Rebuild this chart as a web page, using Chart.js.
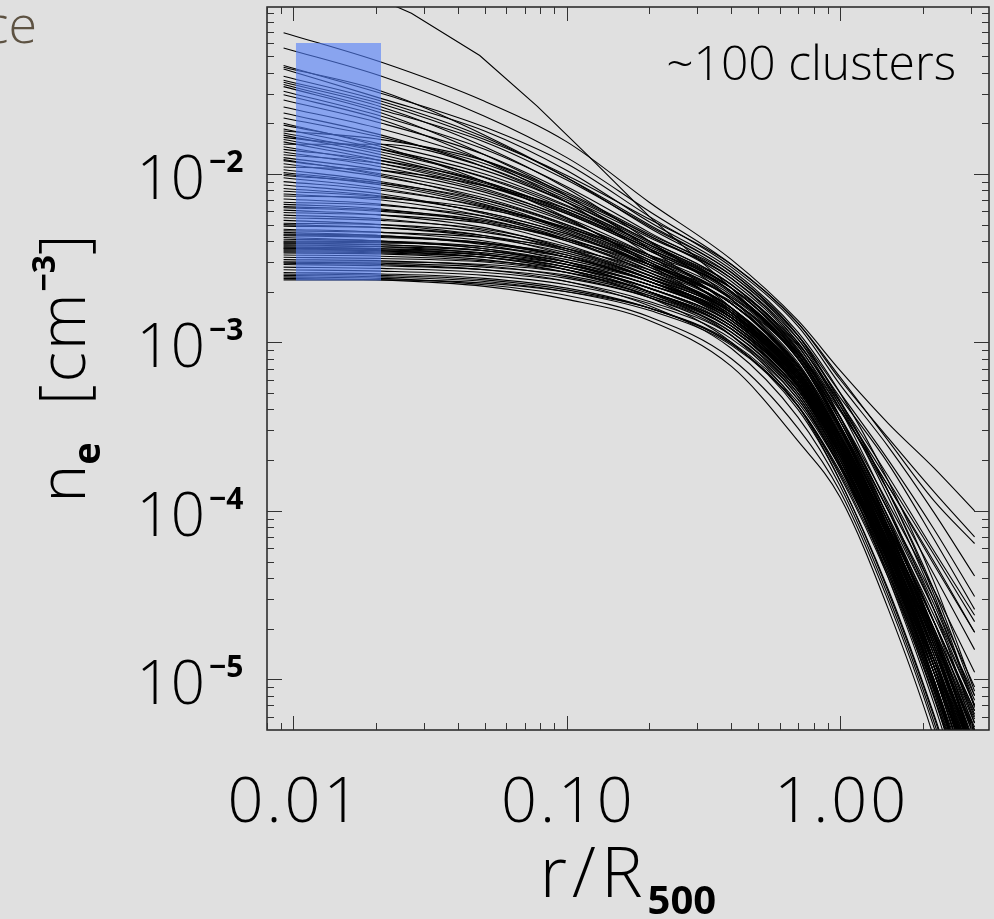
<!DOCTYPE html>
<html>
<head>
<meta charset="utf-8">
<script src="https://cdn.jsdelivr.net/npm/chart.js@4.4.1/dist/chart.umd.min.js"></script>
<style>
  html, body { margin: 0; padding: 0; background: #e0e0e0; }
  canvas { display: block; }
</style>
</head>
<body>
<canvas id="myChart" width="994" height="919"></canvas>
<script>
// radii in units of R500
const RADII = [0.0092, 0.021, 0.05, 0.1, 0.2, 0.4, 0.7, 1.0, 1.5, 2.2, 3.1];

// electron density profiles, in units of 1e-3 cm^-3, one row per cluster
const coolCore = [
  [69, 46, 27, 15.5, 6.8, 3.1, 1.35, 0.68, 0.33, 0.18, 0.100],
  [56, 38, 22, 12.5, 6.0, 2.9, 1.30, 0.60, 0.27, 0.13, 0.070],
  [44, 30, 19, 11.5, 5.6, 2.8, 1.25, 0.56, 0.24, 0.098, 0.041],
  [43, 31, 17, 9.5, 4.8, 2.5, 1.05, 0.42, 0.12, 0.030, 0.0068],
  [42, 28, 18, 10.5, 5.2, 2.7, 1.15, 0.50, 0.15, 0.038, 0.0085],
  [36, 26, 16, 9.8, 5.4, 2.9, 1.30, 0.62, 0.26, 0.115, 0.064],
  [35, 25, 14.5, 8.2, 4.0, 1.8, 0.68, 0.24, 0.052, 0.010, 0.0017],
  [34, 24, 15.5, 9.2, 4.9, 2.6, 1.10, 0.44, 0.13, 0.034, 0.0080],
  [33, 23, 13, 7.4, 3.6, 1.6, 0.60, 0.21, 0.046, 0.0085, 0.0014],
  [31, 22, 14, 8.4, 4.5, 2.4, 1.00, 0.40, 0.105, 0.026, 0.0055],
  [29.5, 21, 12, 6.8, 3.3, 1.5, 0.58, 0.20, 0.044, 0.0080, 0.0013],
  [27.5, 20, 13, 7.8, 4.4, 2.5, 1.10, 0.50, 0.20, 0.078, 0.031],
  [23, 17, 11, 6.8, 3.9, 2.1, 0.85, 0.31, 0.072, 0.014, 0.0026],
  [21.5, 16.5, 11.5, 7.2, 4.2, 2.4, 1.00, 0.42, 0.15, 0.055, 0.022],
  [20, 14.5, 9.0, 5.5, 2.9, 1.4, 0.55, 0.19, 0.040, 0.0072, 0.0012],
  [38, 27, 16.5, 9.5, 5.0, 2.6, 1.10, 0.45, 0.13, 0.032, 0.0070],
  [25, 18.5, 12, 7.4, 4.3, 2.3, 0.96, 0.36, 0.090, 0.019, 0.0036]
];

const intermediate = [
  [19.5, 15, 10.5, 6.8, 4.0, 2.2, 0.92, 0.36, 0.10, 0.028, 0.0075],
  [18.5, 14, 9.5, 6.2, 3.7, 2.1, 0.88, 0.34, 0.090, 0.022, 0.0050],
  [18, 16, 12, 7.6, 4.3, 2.4, 1.05, 0.47, 0.19, 0.068, 0.026],
  [17, 13, 9.0, 6.0, 3.6, 2.0, 0.82, 0.31, 0.080, 0.018, 0.0038],
  [16.5, 14, 10, 6.5, 3.8, 2.0, 0.80, 0.30, 0.075, 0.016, 0.0032],
  [16, 12.5, 8.8, 5.9, 3.6, 2.1, 0.90, 0.36, 0.11, 0.034, 0.011],
  [15, 15, 11, 7.0, 4.0, 2.2, 0.90, 0.34, 0.085, 0.019, 0.0040],
  [14.5, 11.5, 8.2, 5.4, 3.0, 1.55, 0.60, 0.22, 0.050, 0.0095, 0.0017],
  [14, 12, 9.0, 6.0, 3.6, 2.0, 0.84, 0.32, 0.085, 0.020, 0.0045],
  [13.5, 11, 8.0, 5.5, 3.3, 1.8, 0.74, 0.28, 0.068, 0.015, 0.0030],
  [13, 11.5, 8.5, 5.8, 3.5, 2.0, 0.85, 0.34, 0.100, 0.030, 0.0090],
  [12.5, 10.5, 7.8, 5.3, 3.2, 1.8, 0.72, 0.27, 0.064, 0.013, 0.0024],
  [12, 10, 7.5, 5.2, 3.3, 1.9, 0.80, 0.31, 0.085, 0.022, 0.0060],
  [11.5, 9.6, 7.2, 5.0, 3.1, 1.7, 0.70, 0.26, 0.062, 0.013, 0.0025],
  [11, 10.5, 8.5, 6.2, 3.8, 2.2, 0.95, 0.40, 0.14, 0.050, 0.019],
  [10.6, 9.0, 6.8, 4.7, 2.9, 1.6, 0.66, 0.25, 0.060, 0.012, 0.0022],
  [10.2, 8.8, 6.6, 4.6, 2.9, 1.7, 0.70, 0.27, 0.070, 0.016, 0.0036],
  [10, 8.6, 6.5, 4.8, 3.1, 1.8, 0.76, 0.29, 0.076, 0.019, 0.0048],
  [9.5, 8.2, 6.3, 4.5, 2.8, 1.6, 0.64, 0.24, 0.056, 0.011, 0.0020],
  [9.0, 8.0, 6.4, 4.7, 3.0, 1.7, 0.72, 0.28, 0.080, 0.022, 0.0065],
  [8.6, 7.6, 5.8, 4.2, 2.7, 1.5, 0.62, 0.23, 0.052, 0.010, 0.0018],
  [8.2, 7.4, 5.9, 4.4, 2.9, 1.7, 0.72, 0.28, 0.074, 0.018, 0.0042],
  [17.5, 13.5, 9.6, 6.4, 3.8, 2.1, 0.86, 0.32, 0.080, 0.017, 0.0034],
  [15.5, 12, 8.6, 5.8, 3.5, 1.95, 0.80, 0.30, 0.078, 0.018, 0.0040],
  [12.2, 9.8, 7.0, 4.9, 3.0, 1.7, 0.68, 0.25, 0.058, 0.012, 0.0022],
  [9.8, 8.8, 7.0, 5.0, 3.2, 1.85, 0.80, 0.32, 0.092, 0.026, 0.0080]
];

const nonCoolCore = [
  [7.9, 7.3, 5.9, 4.4, 2.9, 1.7, 0.72, 0.28, 0.072, 0.016, 0.0034],
  [7.6, 7.0, 5.6, 4.1, 2.6, 1.5, 0.62, 0.24, 0.058, 0.012, 0.0022],
  [7.4, 7.2, 6.2, 4.8, 3.3, 2.1, 0.98, 0.44, 0.16, 0.058, 0.024],
  [7.1, 6.6, 5.4, 4.0, 2.6, 1.5, 0.64, 0.25, 0.064, 0.014, 0.0028],
  [6.8, 6.5, 5.6, 4.3, 2.9, 1.7, 0.74, 0.30, 0.085, 0.024, 0.0070],
  [6.6, 6.2, 5.1, 3.8, 2.5, 1.45, 0.60, 0.23, 0.054, 0.011, 0.0020],
  [6.3, 6.0, 5.2, 4.0, 2.7, 1.6, 0.68, 0.27, 0.070, 0.017, 0.0040],
  [6.1, 5.7, 4.8, 3.6, 2.4, 1.4, 0.58, 0.22, 0.050, 0.0095, 0.0017],
  [5.9, 5.7, 5.1, 4.1, 2.9, 1.85, 0.88, 0.40, 0.13, 0.042, 0.015],
  [5.7, 5.4, 4.6, 3.5, 2.4, 1.4, 0.60, 0.23, 0.056, 0.012, 0.0024],
  [5.5, 5.3, 4.7, 3.7, 2.6, 1.55, 0.66, 0.26, 0.068, 0.016, 0.0036],
  [5.3, 5.0, 4.3, 3.3, 2.3, 1.35, 0.56, 0.21, 0.048, 0.0090, 0.0016],
  [5.1, 5.0, 4.5, 3.6, 2.5, 1.5, 0.64, 0.25, 0.064, 0.015, 0.0032],
  [4.9, 4.8, 4.3, 3.5, 2.5, 1.55, 0.68, 0.28, 0.080, 0.022, 0.0062],
  [4.7, 4.5, 4.0, 3.2, 2.3, 1.4, 0.60, 0.24, 0.060, 0.013, 0.0026],
  [4.6, 4.5, 4.2, 3.6, 2.7, 1.75, 0.84, 0.39, 0.14, 0.048, 0.019],
  [4.5, 4.3, 3.8, 3.0, 2.0, 1.1, 0.42, 0.15, 0.034, 0.0062, 0.0011],
  [4.4, 4.3, 3.9, 3.2, 2.3, 1.45, 0.62, 0.25, 0.066, 0.016, 0.0038],
  [4.3, 4.2, 3.9, 3.3, 2.4, 1.5, 0.66, 0.27, 0.076, 0.020, 0.0055],
  [4.2, 4.0, 3.6, 2.9, 2.1, 1.25, 0.52, 0.20, 0.048, 0.0095, 0.0018],
  [4.1, 4.0, 3.7, 3.1, 2.3, 1.4, 0.60, 0.24, 0.062, 0.014, 0.0030],
  [4.0, 3.95, 3.6, 3.0, 2.2, 1.35, 0.58, 0.23, 0.058, 0.013, 0.0027],
  [3.95, 3.9, 3.7, 3.2, 2.4, 1.5, 0.66, 0.27, 0.080, 0.022, 0.0065],
  [3.9, 3.8, 3.5, 2.9, 2.1, 1.3, 0.55, 0.21, 0.052, 0.011, 0.0021],
  [3.85, 3.8, 3.5, 3.0, 2.2, 1.4, 0.62, 0.25, 0.070, 0.018, 0.0045],
  [3.8, 3.7, 3.35, 2.7, 1.85, 1.0, 0.40, 0.15, 0.033, 0.0060, 0.0010],
  [3.75, 3.7, 3.5, 3.0, 2.3, 1.45, 0.64, 0.26, 0.075, 0.020, 0.0058],
  [3.7, 3.6, 3.3, 2.8, 2.0, 1.25, 0.54, 0.21, 0.054, 0.012, 0.0025],
  [3.65, 3.6, 3.4, 2.9, 2.2, 1.35, 0.58, 0.23, 0.062, 0.015, 0.0034],
  [3.6, 3.5, 3.2, 2.7, 2.0, 1.2, 0.50, 0.19, 0.046, 0.0090, 0.0017],
  [3.55, 3.5, 3.3, 2.9, 2.2, 1.4, 0.62, 0.25, 0.072, 0.019, 0.0052],
  [3.5, 3.45, 3.2, 2.7, 2.0, 1.2, 0.52, 0.20, 0.050, 0.010, 0.0020],
  [3.45, 3.4, 3.2, 2.8, 2.1, 1.3, 0.57, 0.23, 0.062, 0.015, 0.0036],
  [3.4, 3.35, 3.1, 2.6, 1.9, 1.15, 0.48, 0.18, 0.042, 0.0078, 0.0014],
  [3.3, 3.25, 3.05, 2.7, 2.0, 1.25, 0.55, 0.22, 0.060, 0.015, 0.0038],
  [3.2, 3.15, 3.0, 2.6, 1.95, 1.2, 0.52, 0.21, 0.055, 0.013, 0.0030],
  [3.1, 3.05, 2.85, 2.45, 1.85, 1.1, 0.46, 0.18, 0.044, 0.0085, 0.0016],
  [3.0, 2.95, 2.8, 2.5, 1.9, 1.2, 0.53, 0.22, 0.064, 0.017, 0.0048],
  [2.95, 2.9, 2.7, 2.3, 1.65, 0.92, 0.36, 0.14, 0.031, 0.0056, 0.0009],
  [2.9, 2.85, 2.7, 2.4, 1.85, 1.15, 0.50, 0.20, 0.054, 0.013, 0.0032],
  [2.8, 2.75, 2.6, 2.3, 1.75, 1.1, 0.48, 0.19, 0.050, 0.011, 0.0024],
  [2.7, 2.65, 2.5, 2.2, 1.7, 1.05, 0.46, 0.185, 0.050, 0.012, 0.0030],
  [2.6, 2.55, 2.4, 2.1, 1.6, 0.98, 0.42, 0.165, 0.042, 0.0088, 0.0018],
  [2.5, 2.45, 2.3, 2.0, 1.55, 0.96, 0.42, 0.17, 0.046, 0.011, 0.0028],
  [2.45, 2.4, 2.2, 1.9, 1.42, 0.80, 0.31, 0.13, 0.029, 0.0052, 0.0008],
  [2.4, 2.35, 2.15, 1.80, 1.35, 0.72, 0.26, 0.12, 0.026, 0.0045, 0.0006],
  [2.35, 2.35, 2.25, 2.0, 1.6, 1.0, 0.44, 0.18, 0.050, 0.013, 0.0035],
  [6.4, 6.1, 5.3, 4.1, 2.8, 1.6, 0.66, 0.25, 0.060, 0.012, 0.0022],
  [5.0, 4.8, 4.2, 3.4, 2.4, 1.4, 0.60, 0.23, 0.056, 0.011, 0.0020],
  [4.35, 4.25, 3.85, 3.2, 2.3, 1.3, 0.55, 0.21, 0.050, 0.0095, 0.0017],
  [3.62, 3.55, 3.3, 2.8, 2.1, 1.3, 0.56, 0.22, 0.058, 0.013, 0.0028],
  [3.0, 3.0, 2.9, 2.6, 2.0, 1.25, 0.56, 0.23, 0.066, 0.018, 0.0050],
  [2.55, 2.5, 2.35, 2.05, 1.6, 0.98, 0.42, 0.16, 0.040, 0.0080, 0.0015]
];

// the one steep profile that enters from above the frame (cm^-3)
const outlierRadii = [0.012, 0.027, 0.048, 0.078, 0.117, 0.2, 0.4, 0.7, 1.0, 1.5, 2.2, 3.1];
const outlierDensity = [0.16, 0.090, 0.0505, 0.0252, 0.0133, 5.6e-3, 2.1e-3, 8.5e-4, 3.6e-4, 1.0e-4, 2.6e-5, 7e-6];

// shaded core region
const boxRadii = [0.0102, 0.0209];
const boxDensity = [2.33e-3, 6.0e-2];

const xTickValues = [0.01, 0.1, 1];
const xTickLabels = ['0.01', '0.10', '1.00'];
const yTickValues = [1e-2, 1e-3, 1e-4, 1e-5];
const yTickExponents = ['\u22122', '\u22123', '\u22124', '\u22125'];

const FACE = '"Open Sans", "Liberation Sans", sans-serif';

let datasets = coolCore.concat(intermediate, nonCoolCore).map(row => ({
  data: row.map((n, i) => ({x: RADII[i], y: n * 1e-3})),
  borderColor: '#000',
  borderWidth: 1.1,
  pointRadius: 0,
  fill: false,
  cubicInterpolationMode: 'monotone',
  order: 1
}));

datasets.push({
  data: outlierRadii.map((r, i) => ({x: r, y: outlierDensity[i]})),
  borderColor: '#000',
  borderWidth: 1.1,
  pointRadius: 0,
  fill: false,
  order: 1
});

datasets.push({
  data: [{x: boxRadii[0], y: boxDensity[1]}, {x: boxRadii[1], y: boxDensity[1]}],
  borderWidth: 0,
  pointRadius: 0,
  backgroundColor: 'rgba(84,128,248,0.62)',
  fill: {value: boxDensity[0]},
  order: 0
});

// draws text pieces one after another, each with its own font, spacing and baseline shift
function drawPieces(ctx, pieces, cx, baseY) {
  let total = 0;
  pieces.forEach(p => {
    ctx.font = p.font;
    ctx.letterSpacing = (p.ls || 0) + 'px';
    p.w = ctx.measureText(p.text).width;
    total += p.w;
  });
  let px = cx - total / 2;
  ctx.textAlign = 'left';
  pieces.forEach(p => {
    ctx.font = p.font;
    ctx.letterSpacing = (p.ls || 0) + 'px';
    ctx.fillText(p.text, px, baseY + (p.dy || 0));
    px += p.w;
  });
  ctx.letterSpacing = '0px';
}

const idlAxes = {
  id: 'idlAxes',
  beforeDraw(chart) {
    const c = chart.ctx;
    c.save();
    c.fillStyle = '#e0e0e0';
    c.fillRect(0, 0, chart.width, chart.height);
    c.restore();
  },
  afterDraw(chart) {
    const {ctx, chartArea: a, scales: {x, y}} = chart;
    ctx.save();

    //frame
    ctx.strokeStyle = '#222';
    ctx.lineWidth = 1.5;
    ctx.strokeRect(a.left, a.top, a.right - a.left, a.bottom - a.top);

    //inward ticks on all four sides
    ctx.lineWidth = 1;
    ctx.strokeStyle = '#333';
    ctx.beginPath();
    for (let k = -3; k <= 0; k++) {
      for (let m = 1; m <= 9; m++) {
        const v = m * Math.pow(10, k);
        if (v < x.min || v > x.max) continue;
        const px = Math.round(x.getPixelForValue(v)) + 0.5;
        const len = m === 1 ? 14 : 7;
        ctx.moveTo(px, a.bottom); ctx.lineTo(px, a.bottom - len);
        ctx.moveTo(px, a.top); ctx.lineTo(px, a.top + len);
      }
    }
    for (let k = -6; k <= -2; k++) {
      for (let m = 1; m <= 9; m++) {
        const v = m * Math.pow(10, k);
        if (v < y.min || v > y.max) continue;
        const py = Math.round(y.getPixelForValue(v)) + 0.5;
        const len = m === 1 ? 15 : 7;
        ctx.moveTo(a.left, py); ctx.lineTo(a.left + len, py);
        ctx.moveTo(a.right, py); ctx.lineTo(a.right - len, py);
      }
    }
    ctx.stroke();

    ctx.fillStyle = '#000';
    ctx.textBaseline = 'alphabetic';

    //x tick labels
    xTickValues.forEach((v, i) => {
      drawPieces(ctx, [{text: xTickLabels[i], font: '300 63px ' + FACE, ls: 3}],
        x.getPixelForValue(v) + 1.5, a.bottom + 92);
    });

    //y tick labels, 10 with a bold exponent
    yTickValues.forEach((v, i) => {
      const py = y.getPixelForValue(v);
      ctx.font = '300 60px ' + FACE;
      ctx.textAlign = 'right';
      ctx.fillText('10', a.left - 62, py + 25);
      ctx.font = 'bold 30px ' + FACE;
      ctx.textAlign = 'left';
      ctx.fillText(yTickExponents[i], a.left - 58, py - 2);
    });

    //x title
    drawPieces(ctx, [
      {text: 'r/R', font: '300 70px ' + FACE, ls: 5},
      {text: '500', font: 'bold 40px ' + FACE, dy: 17}
    ], (a.left + a.right) / 2, a.bottom + 167);

    //y title, rotated
    ctx.save();
    ctx.translate(85, (a.top + a.bottom) / 2);
    ctx.rotate(-Math.PI / 2);
    drawPieces(ctx, [
      {text: 'n', font: '300 64px ' + FACE},
      {text: 'e', font: 'bold 38px ' + FACE, dy: 15},
      {text: '  [cm', font: '300 64px ' + FACE, ls: 2},
      {text: '\u22123', font: 'bold 32px ' + FACE, dy: -30},
      {text: ']', font: '300 64px ' + FACE}
    ], 0, 0);
    ctx.restore();

    //annotation
    ctx.font = '300 48px ' + FACE;
    ctx.textAlign = 'right';
    ctx.fillText('~100 clusters', 956, 80);

    //cut-off word from the slide title
    ctx.fillStyle = '#5d5242';
    ctx.font = '300 52px ' + FACE;
    ctx.fillText('ce', 37, 43);

    ctx.restore();
  }
};

var ctx = document.getElementById('myChart');
var chart = new Chart(ctx, {
  type: 'line',
  data: {datasets: datasets},
  options: {
    responsive: false,
    animation: false,
    devicePixelRatio: 1,
    layout: {padding: {left: 267, right: 5, top: 7, bottom: 189}},
    scales: {
      x: {type: 'logarithmic', min: 0.008, max: 3.5, display: false},
      y: {type: 'logarithmic', min: 5e-6, max: 0.098, display: false}
    },
    plugins: {
      legend: {display: false},
      tooltip: {enabled: false}
    }
  },
  plugins: [idlAxes]
});
</script>
</body>
</html>
